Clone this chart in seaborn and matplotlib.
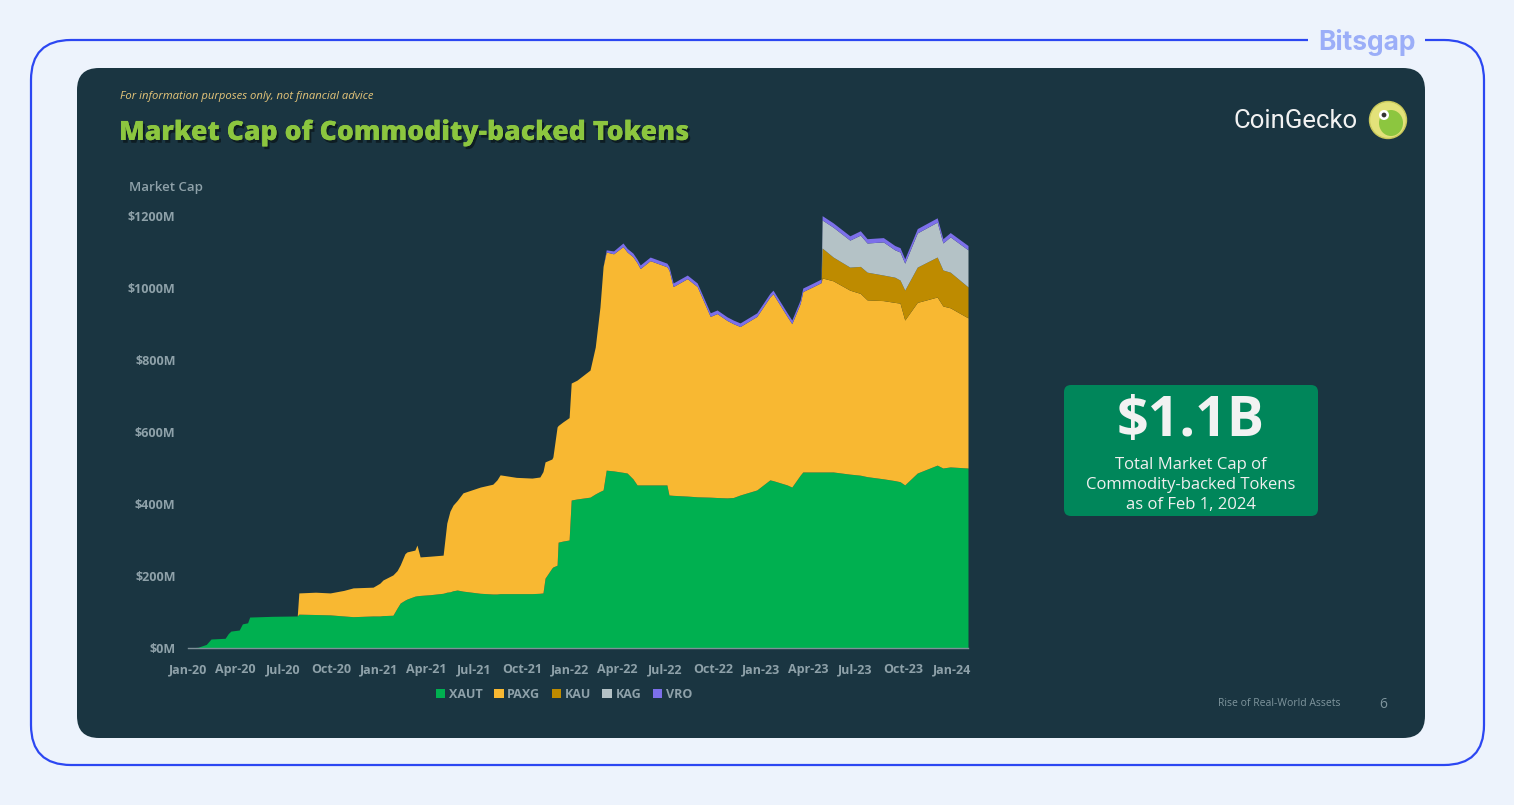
import matplotlib
matplotlib.use("Agg")
import matplotlib.pyplot as plt
import matplotlib.dates as mdates
import matplotlib.patheffects as pe
from matplotlib.patches import FancyBboxPatch, Rectangle, Circle, Ellipse, Patch
import numpy as np
import pandas as pd
import seaborn as sns

# ---------------- data (USD millions) ----------------
dates = [
    "2020-01-01", "2020-01-20", "2020-01-24", "2020-02-05", "2020-02-14", "2020-03-12",
    "2020-03-18", "2020-03-23", "2020-04-08", "2020-04-14", "2020-04-24", "2020-04-28",
    "2020-06-10", "2020-07-28", "2020-07-31", "2020-09-01", "2020-09-29", "2020-10-25",
    "2020-11-12", "2020-12-20", "2021-01-02", "2021-01-08", "2021-01-27", "2021-02-04",
    "2021-02-10", "2021-02-19", "2021-02-23", "2021-03-10", "2021-03-14", "2021-03-20",
    "2021-04-08", "2021-05-03", "2021-05-10", "2021-05-16", "2021-05-22", "2021-05-30",
    "2021-06-10", "2021-07-13", "2021-08-06", "2021-08-14", "2021-08-20", "2021-09-20",
    "2021-10-20", "2021-11-04", "2021-11-10", "2021-11-14", "2021-11-27", "2021-11-29",
    "2021-12-07", "2021-12-09", "2021-12-18", "2021-12-30", "2022-01-03", "2022-01-14",
    "2022-02-08", "2022-02-18", "2022-02-27", "2022-03-05", "2022-03-11", "2022-03-25",
    "2022-04-12", "2022-04-20", "2022-05-01", "2022-05-09", "2022-05-15", "2022-06-03",
    "2022-07-05", "2022-07-09", "2022-07-17", "2022-08-13", "2022-09-01", "2022-09-26",
    "2022-10-09", "2022-10-28", "2022-11-09", "2022-11-22", "2022-12-24", "2023-01-18",
    "2023-01-24", "2023-02-20", "2023-03-01", "2023-03-17", "2023-03-22", "2023-04-11",
    "2023-04-26", "2023-04-28", "2023-05-19", "2023-06-20", "2023-07-10", "2023-07-23",
    "2023-08-23", "2023-09-14", "2023-09-24", "2023-10-03", "2023-10-27", "2023-12-04",
    "2023-12-15", "2023-12-29", "2024-02-01",
]

xaut = [
    0, 2, 4, 10, 25, 27,
    40, 47, 50, 67, 70, 86,
    88, 89, 94, 93, 92, 89,
    87, 89, 89, 90, 91, 111,
    125, 133, 136, 144, 145, 146,
    148, 152, 155, 156, 159, 161,
    158, 152, 150, 150, 151, 151,
    151, 152, 153, 194, 222, 225,
    230, 294, 297, 300, 411, 414,
    419, 428, 435, 439, 494, 492,
    488, 486, 470, 453, 453, 453,
    453, 425, 424, 422, 420, 419,
    418, 417, 418, 425, 439, 467,
    465, 453, 447, 480, 489, 489,
    489, 489, 489, 483, 480, 476,
    470, 465, 462, 453, 486, 508,
    500, 503, 500,
]

paxg = [
    0, 0, 0, 0, 0, 0,
    0, 0, 0, 0, 0, 0,
    0, 0, 59, 62, 61, 71,
    80, 80, 91, 99, 112, 104,
    106, 129, 131, 128, 141, 107,
    107, 106, 192, 224, 238, 249,
    273, 295, 305, 317, 330, 323,
    321, 323, 337, 323, 303, 306,
    384, 324, 331, 340, 325, 330,
    353, 408, 512, 621, 606, 603,
    627, 614, 617, 617, 601, 623,
    606, 625, 580, 604, 584, 502,
    511, 493, 483, 468, 482, 508,
    519, 468, 454, 477, 501, 515,
    526, 539, 531, 511, 505, 491,
    495, 495, 496, 458, 474, 467,
    450, 442, 417,
]

kau = [0] * 85 + [
    83, 66, 64, 75, 77,
    71, 70, 64, 83, 98, 111,
    100, 99, 86,
]

kag = [0] * 85 + [
    78, 83, 75, 87, 81,
    92, 76, 78, 75, 95, 97,
    75, 98, 103,
]

vro = [0] * 58 + [6, 8] + [10] * 25 + [12] * 14

series_names = ["XAUT", "PAXG", "KAU", "KAG", "VRO"]
series_colors = ["#00B050", "#F8B832", "#BE8B00", "#B4C2C6", "#7C6FEA"]
y_ticks = [0, 200, 400, 600, 800, 1000, 1200]
x_tick_dates = pd.date_range("2020-01-01", "2024-01-01", freq="QS")

df = pd.DataFrame({"date": pd.to_datetime(dates), "XAUT": xaut, "PAXG": paxg,
                   "KAU": kau, "KAG": kag, "VRO": vro})

# ---------------- figure ----------------
sns.set_theme(style="dark")
plt.rcParams["font.family"] = ["Open Sans", "DejaVu Sans"]

W, H = 1514, 805
fig = plt.figure(figsize=(W / 100, H / 100), dpi=100)
fig.patch.set_facecolor("#EDF3FC")

bg = fig.add_axes([0, 0, 1, 1])
bg.set_xlim(0, W)
bg.set_ylim(H, 0)
bg.axis("off")
bg.set_facecolor("none")

# outer frame
bg.add_patch(FancyBboxPatch((31, 40), 1453, 725, boxstyle="round,pad=0,rounding_size=40",
                            fc="none", ec="#2C47F2", lw=1.6))
bg.add_patch(Rectangle((1308, 30), 117, 20, fc="#EDF3FC", ec="none"))
bg.text(1367, 43, "Bitsgap", fontsize=19, fontweight="bold", color="#9BAEF8",
        ha="center", va="center", family=["Inter", "DejaVu Sans"])

# dark panel
PANEL = "#1A3541"
bg.add_patch(FancyBboxPatch((77, 68), 1348, 670, boxstyle="round,pad=0,rounding_size=22",
                            fc=PANEL, ec="none"))

bg.text(120, 96, "For information purposes only, not financial advice", fontsize=8.1,
        style="italic", color="#E6C67A", ha="left", va="center")
bg.text(119, 133, "Market Cap of Commodity-backed Tokens", fontsize=19.2,
        fontweight="heavy", color="#8CC63F", ha="left", va="center",
        path_effects=[pe.withSimplePatchShadow(offset=(1.5, -2), shadow_rgbFace="black", alpha=0.45),
                      pe.Normal()])

# CoinGecko logo
bg.text(1358, 121, "CoinGecko", fontsize=18.5, color="#F2F2F2", ha="right", va="center",
        family=["Roboto", "DejaVu Sans"])
bg.add_patch(Circle((1388, 120), 18.5, fc="#E3E27A", ec="#C9C85A", lw=1))
bg.add_patch(Ellipse((1391, 123), 24, 26, fc="#8CC63F", ec="none"))
bg.add_patch(Circle((1384, 115), 5, fc="white", ec="none"))
bg.add_patch(Circle((1384, 115), 2.4, fc="#333333", ec="none"))

# highlight box
bg.add_patch(FancyBboxPatch((1064, 385), 254, 131, boxstyle="round,pad=0,rounding_size=7",
                            fc="#00865A", ec="none"))
bg.text(1191, 421, "$1.1B", fontsize=40, fontweight="bold", color="#F2F2F2",
        ha="center", va="center")
for i, line in enumerate(["Total Market Cap of", "Commodity-backed Tokens", "as of Feb 1, 2024"]):
    bg.text(1191, 465 + 20 * i, line, fontsize=12, color="#F0F0F0", ha="center", va="center")

# footer
bg.text(1341, 703, "Rise of Real-World Assets", fontsize=7.5, color="#7F959D",
        ha="right", va="center")
bg.text(1383, 704, "6", fontsize=10, color="#7F959D", ha="center", va="center")

TICK = "#8EA1A9"
bg.text(129, 188, "Market Cap", fontsize=9.5, fontweight="semibold", color=TICK,
        ha="left", va="center")

# ---------------- chart axes ----------------
ax = fig.add_axes([188 / W, (H - 648) / H, 780 / W, 432 / H])
ax.set_facecolor("none")
ax.stackplot(df["date"], [df[s] for s in series_names], colors=series_colors,
             labels=series_names, linewidth=0)
ax.set_xlim(pd.Timestamp("2020-01-01"), pd.Timestamp("2024-02-01"))
ax.set_ylim(0, 1200)
ax.set_yticks(y_ticks)
ax.set_yticklabels([f"${v}M" for v in y_ticks])
ax.set_xticks(x_tick_dates)
ax.xaxis.set_major_formatter(mdates.DateFormatter("%b-%y"))
ax.grid(False)
sns.despine(ax=ax, left=True)
for sp in ["top", "right", "left"]:
    ax.spines[sp].set_visible(False)
ax.spines["bottom"].set_color("#7E9199")
ax.spines["bottom"].set_linewidth(1)
ax.tick_params(axis="x", length=5, width=1, color="#7E9199", direction="out",
               pad=6, labelsize=9, labelcolor=TICK)
ax.tick_params(axis="y", length=0, pad=9, labelsize=9, labelcolor=TICK)
for lab in ax.get_xticklabels() + ax.get_yticklabels():
    lab.set_fontweight("bold")

handles = [Patch(fc=c, ec="none") for c in series_colors]
leg = fig.legend(handles, series_names, loc="center", bbox_to_anchor=(564 / W, 1 - 694 / H),
                 ncol=5, frameon=False, handlelength=0.75, handleheight=0.75,
                 handletextpad=0.3, columnspacing=0.9, fontsize=9)
for t in leg.get_texts():
    t.set_color(TICK)
    t.set_fontweight("bold")

fig.savefig("out.png", dpi=100, facecolor=fig.get_facecolor())
